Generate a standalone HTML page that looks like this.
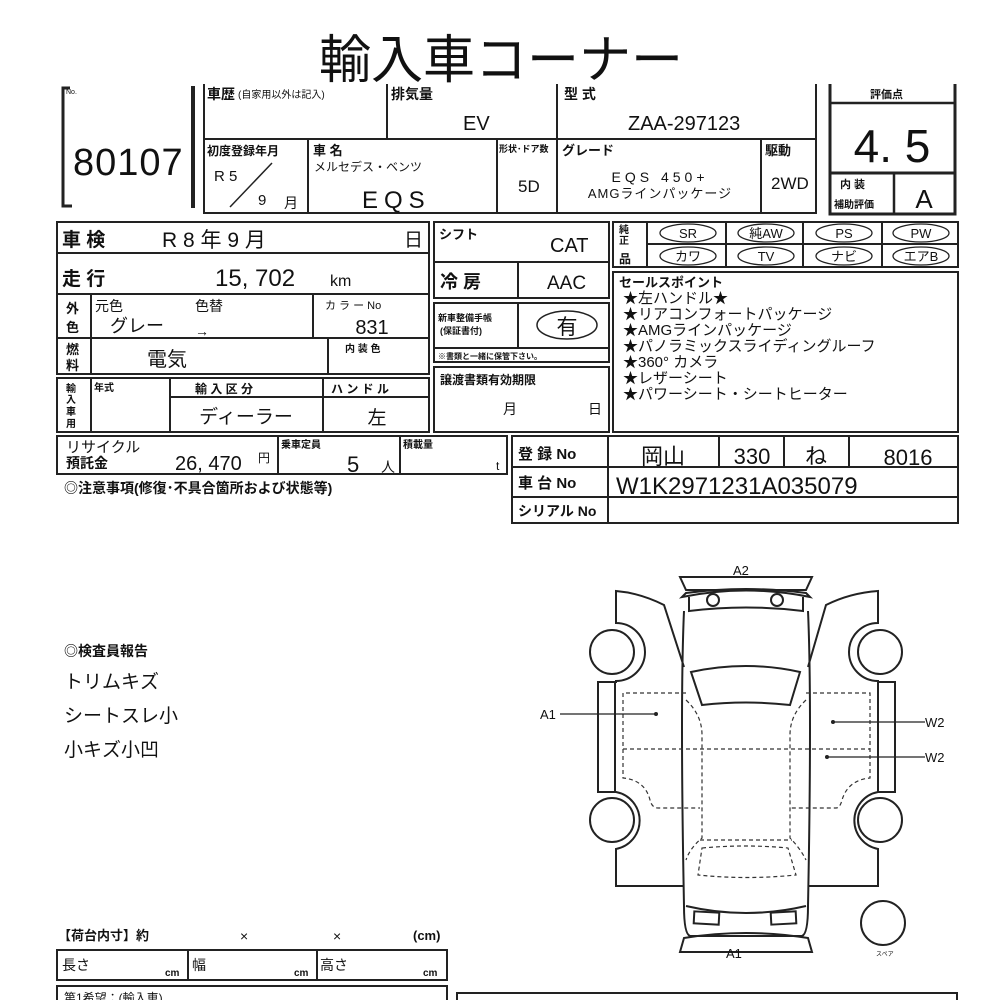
<!DOCTYPE html>
<html><head><meta charset="utf-8"><style>
html,body{margin:0;padding:0;background:#fff;width:1000px;height:1000px;overflow:hidden}
svg{display:block}
text{font-family:"Liberation Sans","Noto Sans CJK JP",sans-serif;fill:#111}
.b{font-weight:bold}
</style></head><body>
<svg width="1000" height="1000" viewBox="0 0 1000 1000" xmlns="http://www.w3.org/2000/svg">
<text x="501" y="78" font-size="52" text-anchor="middle">輸入車コーナー</text>

<g stroke="#222" fill="none">
<path d="M70 88 H63 V206 H72" stroke-width="3"/>
<line x1="193" y1="86" x2="193" y2="208" stroke-width="4"/>
<path d="M204 84 V213 H816 V84" stroke-width="2"/>
<line x1="204" y1="139" x2="816" y2="139" stroke-width="2"/>
<line x1="387" y1="84" x2="387" y2="139" stroke-width="2"/>
<line x1="557" y1="84" x2="557" y2="213" stroke-width="2"/>
<line x1="308" y1="139" x2="308" y2="213" stroke-width="2"/>
<line x1="497" y1="139" x2="497" y2="213" stroke-width="2"/>
<line x1="761" y1="139" x2="761" y2="213" stroke-width="2"/>
<line x1="230" y1="207" x2="272" y2="163" stroke-width="1.5"/>
<path d="M830 84 V214 H955 V84" stroke-width="3"/>
<line x1="830" y1="103" x2="955" y2="103" stroke-width="2.5"/>
<line x1="830" y1="173" x2="955" y2="173" stroke-width="3"/>
<line x1="894" y1="173" x2="894" y2="214" stroke-width="2.5"/>
</g>
<text x="66" y="94" font-size="7">No.</text>
<text x="73" y="175" font-size="38" letter-spacing="1">80107</text>
<text x="207" y="99" font-size="14" class="b">車歴</text>
<text x="238" y="98" font-size="10">(自家用以外は記入)</text>
<text x="391" y="99" font-size="14" class="b">排気量</text>
<text x="463" y="130" font-size="20">EV</text>
<text x="564" y="99" font-size="14" class="b">型  式</text>
<text x="628" y="130" font-size="20">ZAA-297123</text>
<text x="207" y="155" font-size="12" class="b">初度登録年月</text>
<text x="214" y="181" font-size="15">R 5</text>
<text x="258" y="205" font-size="15">9</text>
<text x="284" y="208" font-size="14">月</text>
<text x="313" y="155" font-size="13" class="b">車   名</text>
<text x="314" y="171" font-size="12">メルセデス・ベンツ</text>
<text x="362" y="208" font-size="24" letter-spacing="6">EQS</text>
<text x="499" y="152" font-size="9" class="b">形状･ドア数</text>
<text x="518" y="192" font-size="17">5D</text>
<text x="562" y="155" font-size="13" class="b">グレード</text>
<text x="660" y="182" font-size="14" text-anchor="middle" letter-spacing="4">EQS  450+</text>
<text x="660" y="198" font-size="13" text-anchor="middle" letter-spacing="1">AMGラインパッケージ</text>
<text x="765" y="155" font-size="13" class="b">駆動</text>
<text x="771" y="189" font-size="17">2WD</text>
<text x="870" y="98" font-size="11" class="b">評価点</text>
<text x="892" y="162" font-size="46" text-anchor="middle">4. 5</text>
<text x="840" y="188" font-size="11" class="b">内 装</text>
<text x="834" y="208" font-size="10" class="b">補助評価</text>
<text x="924" y="208" font-size="26" text-anchor="middle">A</text>

<g stroke="#222" fill="none" stroke-width="2">
<rect x="57" y="222" width="372" height="152"/>
<line x1="57" y1="253" x2="429" y2="253"/>
<line x1="57" y1="294" x2="429" y2="294"/>
<line x1="57" y1="338" x2="429" y2="338"/>
<line x1="91" y1="294" x2="91" y2="374"/>
<line x1="313" y1="294" x2="313" y2="338"/>
<line x1="328" y1="338" x2="328" y2="374"/>
<rect x="57" y="378" width="372" height="54"/>
<line x1="91" y1="378" x2="91" y2="432"/>
<line x1="170" y1="378" x2="170" y2="432"/>
<line x1="323" y1="378" x2="323" y2="432"/>
<line x1="170" y1="397" x2="429" y2="397"/>
</g>
<text x="62" y="246" font-size="19" class="b">車 検</text>
<text x="162" y="247" font-size="21">R 8 年   9 月</text>
<text x="404" y="246" font-size="19">日</text>
<text x="62" y="285" font-size="19" class="b">走 行</text>
<text x="215" y="286" font-size="24">15, 702</text>
<text x="330" y="286" font-size="16">km</text>
<text x="66" y="313" font-size="13" class="b">外</text>
<text x="66" y="332" font-size="13" class="b">色</text>
<text x="95" y="311" font-size="14">元色</text>
<text x="195" y="311" font-size="14">色替</text>
<text x="110" y="332" font-size="18">グレー</text>
<text x="195" y="336" font-size="14">→</text>
<text x="325" y="309" font-size="11">カ ラ ー No</text>
<text x="372" y="334" font-size="20" text-anchor="middle">831</text>
<text x="66" y="354" font-size="13" class="b">燃</text>
<text x="66" y="370" font-size="13" class="b">料</text>
<text x="147" y="366" font-size="20">電気</text>
<text x="345" y="352" font-size="10" class="b">内 装 色</text>
<text x="66" y="392" font-size="10" class="b">輸</text>
<text x="66" y="403" font-size="10" class="b">入</text>
<text x="66" y="415" font-size="10" class="b">車</text>
<text x="66" y="427" font-size="10" class="b">用</text>
<text x="94" y="391" font-size="10" class="b">年式</text>
<text x="195" y="393" font-size="12" class="b">輸  入  区  分</text>
<text x="331" y="393" font-size="12" class="b">ハ ン ド ル</text>
<text x="246" y="423" font-size="19" text-anchor="middle">ディーラー</text>
<text x="377" y="424" font-size="19" text-anchor="middle">左</text>

<g stroke="#222" fill="none" stroke-width="2">
<rect x="434" y="222" width="175" height="76"/>
<line x1="434" y1="262" x2="609" y2="262"/>
<line x1="518" y1="262" x2="518" y2="298"/>
<rect x="434" y="303" width="175" height="59"/>
<line x1="434" y1="348" x2="609" y2="348"/>
<line x1="518" y1="303" x2="518" y2="348"/>
<rect x="434" y="367" width="175" height="65"/>
<ellipse cx="567" cy="325" rx="30" ry="14" stroke-width="1.5"/>
</g>
<text x="439" y="239" font-size="13" class="b">シフト</text>
<text x="550" y="252" font-size="20">CAT</text>
<text x="440" y="288" font-size="18" class="b">冷  房</text>
<text x="547" y="289" font-size="19">AAC</text>
<text x="438" y="321" font-size="9" class="b">新車整備手帳</text>
<text x="440" y="334" font-size="9" class="b">(保証書付)</text>
<text x="567" y="334" font-size="21" text-anchor="middle">有</text>
<text x="438" y="359" font-size="8" class="b">※書類と一緒に保管下さい。</text>
<text x="440" y="384" font-size="12" class="b">譲渡書類有効期限</text>
<text x="503" y="414" font-size="14">月</text>
<text x="588" y="414" font-size="14">日</text>

<g stroke="#222" fill="none" stroke-width="2">
<rect x="613" y="222" width="345" height="45"/>
<line x1="647" y1="244" x2="958" y2="244"/>
<line x1="647" y1="222" x2="647" y2="267"/>
<line x1="726" y1="222" x2="726" y2="267"/>
<line x1="803" y1="222" x2="803" y2="267"/>
<line x1="882" y1="222" x2="882" y2="267"/>
<rect x="613" y="272" width="345" height="160"/>
<g stroke-width="1.3">
<ellipse cx="688" cy="233" rx="28" ry="9"/><ellipse cx="766" cy="233" rx="28" ry="9"/>
<ellipse cx="844" cy="233" rx="28" ry="9"/><ellipse cx="921" cy="233" rx="28" ry="9"/>
<ellipse cx="688" cy="256" rx="28" ry="9"/><ellipse cx="766" cy="256" rx="28" ry="9"/>
<ellipse cx="844" cy="256" rx="28" ry="9"/><ellipse cx="921" cy="256" rx="28" ry="9"/>
</g>
</g>
<text x="619" y="233" font-size="10" class="b">純</text>
<text x="619" y="244" font-size="10" class="b">正</text>
<text x="619" y="263" font-size="12" class="b">品</text>
<g font-size="13" text-anchor="middle">
<text x="688" y="238">SR</text><text x="766" y="238">純AW</text><text x="844" y="238">PS</text><text x="921" y="238">PW</text>
<text x="688" y="261">カワ</text><text x="766" y="261">TV</text><text x="844" y="261">ナビ</text><text x="921" y="261">エアB</text>
</g>
<text x="619" y="287" font-size="13" class="b">セールスポイント</text>
<g font-size="15">
<text x="623" y="303">★左ハンドル★</text>
<text x="623" y="319">★リアコンフォートパッケージ</text>
<text x="623" y="335">★AMGラインパッケージ</text>
<text x="623" y="351">★パノラミックスライディングルーフ</text>
<text x="623" y="367">★360°  カメラ</text>
<text x="623" y="383">★レザーシート</text>
<text x="623" y="399">★パワーシート・シートヒーター</text>
</g>

<g stroke="#222" fill="none" stroke-width="2">
<rect x="57" y="436" width="450" height="38"/>
<line x1="278" y1="436" x2="278" y2="474"/>
<line x1="400" y1="436" x2="400" y2="474"/>
<rect x="512" y="436" width="446" height="87"/>
<line x1="512" y1="467" x2="958" y2="467"/>
<line x1="512" y1="497" x2="958" y2="497"/>
<line x1="608" y1="436" x2="608" y2="523"/>
<line x1="719" y1="436" x2="719" y2="467"/>
<line x1="784" y1="436" x2="784" y2="467"/>
<line x1="849" y1="436" x2="849" y2="467"/>
</g>
<text x="66" y="452" font-size="15">リサイクル</text>
<text x="66" y="468" font-size="14" class="b">預託金</text>
<text x="175" y="470" font-size="20">26, 470</text>
<text x="258" y="462" font-size="12">円</text>
<text x="281" y="448" font-size="10" class="b">乗車定員</text>
<text x="347" y="472" font-size="22">5</text>
<text x="381" y="472" font-size="14">人</text>
<text x="403" y="448" font-size="10" class="b">積載量</text>
<text x="496" y="470" font-size="12">t</text>
<text x="64" y="493" font-size="14" class="b">◎注意事項(修復･不具合箇所および状態等)</text>
<text x="518" y="459" font-size="15" class="b">登  録 No</text>
<text x="518" y="488" font-size="15" class="b">車  台 No</text>
<text x="518" y="516" font-size="14" class="b">シリアル No</text>
<text x="663" y="464" font-size="22" text-anchor="middle">岡山</text>
<text x="752" y="464" font-size="22" text-anchor="middle">330</text>
<text x="816" y="464" font-size="22" text-anchor="middle">ね</text>
<text x="908" y="465" font-size="22" text-anchor="middle">8016</text>
<text x="616" y="494" font-size="24">W1K2971231A035079</text>

<text x="64" y="656" font-size="14" class="b">◎検査員報告</text>
<text x="64" y="688" font-size="19">トリムキズ</text>
<text x="64" y="722" font-size="19">シートスレ小</text>
<text x="64" y="756" font-size="19">小キズ小凹</text>

<g stroke="#222" fill="none" stroke-width="2">
<path d="M680 577 H812 L806 590 H686 Z"/>
<path d="M682 597 Q746 584 810 597 L806 593 Q746 585 686 593 Z"/>
<path d="M689 597 V611 Q746 604 803 611 V597"/>
<circle cx="713" cy="600" r="6"/><circle cx="777" cy="600" r="6"/>
<path d="M684 611 Q680 700 684 906 Q684 934 690 936 H802 Q808 934 808 906 Q812 700 808 611"/>
<path d="M691 672 Q746 660 800 672 L790 705 Q746 700 702 705 Z"/>
<path d="M686 906 Q746 920 806 906"/>
<rect x="694" y="912" width="25" height="12" transform="rotate(3 706 918)"/>
<rect x="771" y="912" width="25" height="12" transform="rotate(-3 783 918)"/>
<path d="M684 938 Q746 928 808 938 L812 952 H680 Z"/>
<path d="M684 667 L664 605 Q640 593 616 591 V623 A29 29 0 0 1 616 681 V682 H598 V792 H616 A29 29 0 0 1 616 849 V886 H684"/>
<circle cx="612" cy="652" r="22"/><circle cx="612" cy="820" r="22"/>
<line x1="615" y1="682" x2="615" y2="792"/>
<path d="M808 667 L826 605 Q850 593 878 591 V623 A29 29 0 0 0 878 681 V682 H895 V792 H878 A29 29 0 0 0 878 849 V886 H808"/>
<circle cx="880" cy="652" r="22"/><circle cx="880" cy="820" r="22"/>
<line x1="878" y1="682" x2="878" y2="792"/>
<circle cx="883" cy="923" r="22"/>
</g>
<g stroke="#333" fill="none" stroke-width="1.2" stroke-dasharray="4,3">
<path d="M686 693 H623 V778 Q645 780 650 800 Q652 808 658 808 H700"/>
<path d="M623 749 H870"/>
<path d="M806 693 H870 V778 Q848 780 842 800 Q840 808 836 808 H790"/>
<path d="M686 700 Q702 715 702 735 V838 Q690 848 686 860"/>
<path d="M806 700 Q790 715 790 735 V838 Q800 848 806 860"/>
<path d="M700 840 H792"/>
<path d="M702 848 Q746 844 788 848 L796 875 Q746 880 698 875 Z"/>
</g>
<g stroke="#222" stroke-width="1.2">
<line x1="560" y1="714" x2="656" y2="714"/>
<line x1="833" y1="722" x2="925" y2="722"/>
<line x1="827" y1="757" x2="925" y2="757"/>
</g>
<circle cx="656" cy="714" r="2" fill="#222"/><circle cx="833" cy="722" r="2" fill="#222"/><circle cx="827" cy="757" r="2" fill="#222"/>
<text x="733" y="575" font-size="13">A2</text>
<text x="540" y="719" font-size="13">A1</text>
<text x="925" y="727" font-size="13">W2</text>
<text x="925" y="762" font-size="13">W2</text>
<text x="726" y="958" font-size="13">A1</text>
<text x="876" y="956" font-size="6">スペア</text>

<text x="58" y="940" font-size="13" class="b">【荷台内寸】約</text>
<text x="240" y="941" font-size="14">×</text>
<text x="333" y="941" font-size="14">×</text>
<text x="413" y="940" font-size="13" class="b">(cm)</text>
<g stroke="#222" fill="none" stroke-width="2">
<rect x="57" y="950" width="390" height="30"/>
<line x1="188" y1="950" x2="188" y2="980"/>
<line x1="317" y1="950" x2="317" y2="980"/>
<path d="M57 1002 V986 H447 V1002"/>
<path d="M457 1002 V993 H957 V1002"/>
</g>
<text x="62" y="970" font-size="14">長さ</text>
<text x="165" y="976" font-size="10" class="b">cm</text>
<text x="192" y="970" font-size="14">幅</text>
<text x="294" y="976" font-size="10" class="b">cm</text>
<text x="320" y="970" font-size="14">高さ</text>
<text x="423" y="976" font-size="10" class="b">cm</text>
<text x="64" y="1002" font-size="12">第1希望：(輸入車)</text>
</svg>
</body></html>
